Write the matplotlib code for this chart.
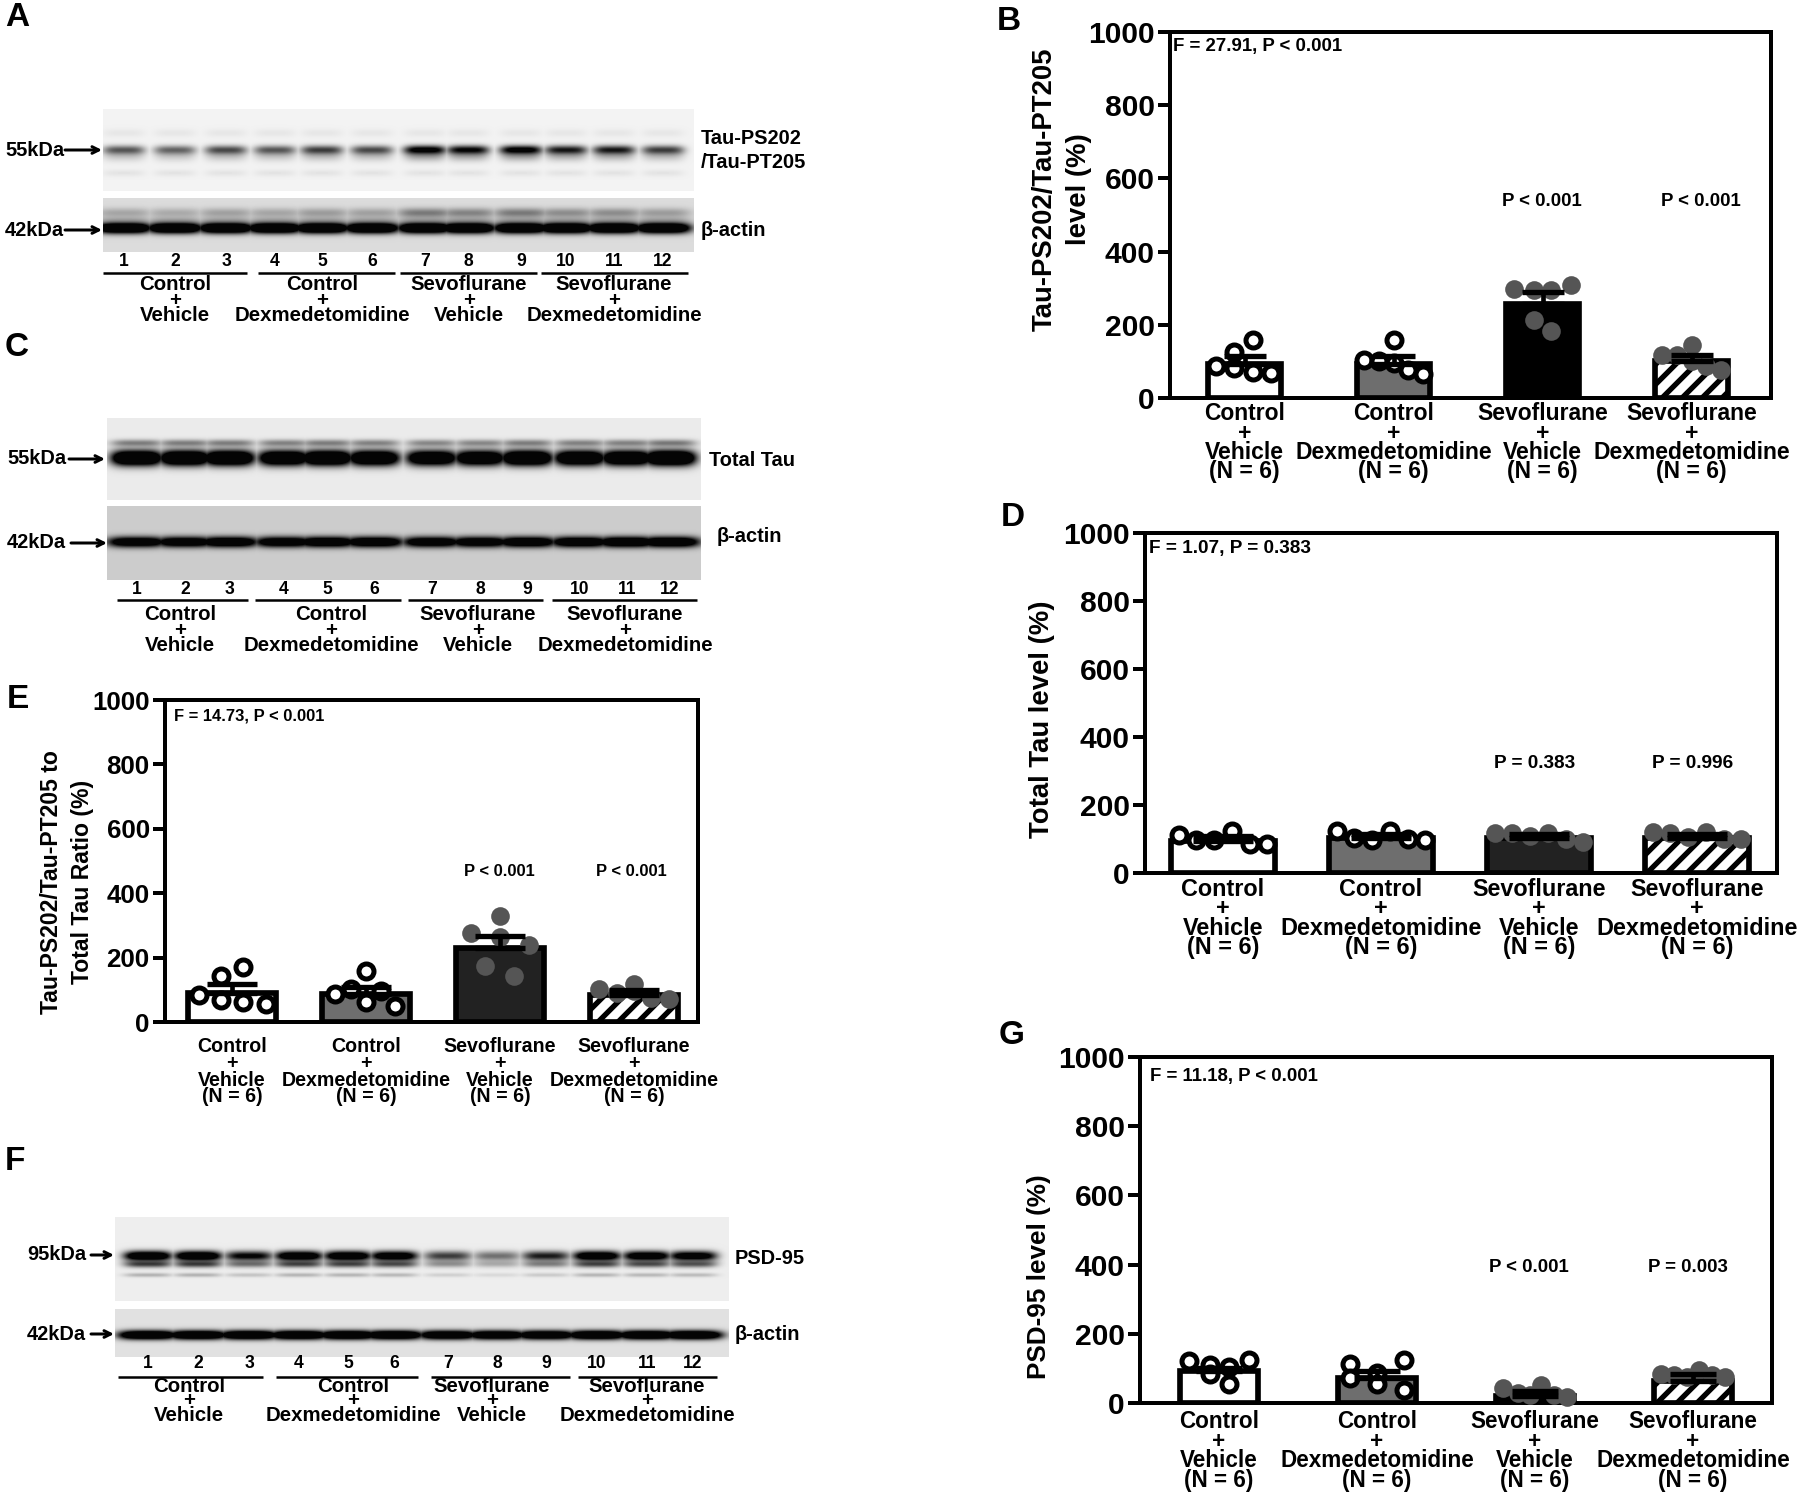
"""Western blot figure: blots A, C, F and bar panels B, D, E, G."""

import numpy as np
import matplotlib

matplotlib.use("Agg")
import matplotlib.pyplot as plt

W, H = 1800, 1493
DPI = 120

plt.rcParams["font.family"] = ["Liberation Sans", "DejaVu Sans"]
plt.rcParams["font.weight"] = "bold"
plt.rcParams["axes.labelweight"] = "bold"
plt.rcParams["hatch.linewidth"] = 3.2

# bar panel data
GROUPS = ["Control\n+\nVehicle\n(N = 6)", "Control\n+\nDexmedetomidine\n(N = 6)",
          "Sevoflurane\n+\nVehicle\n(N = 6)", "Sevoflurane\n+\nDexmedetomidine\n(N = 6)"]
Y_TICKS = [0, 200, 400, 600, 800, 1000]

B_MEANS = [94, 94, 258, 100]
B_TOPS = [114, 114, 289, 118]
B_POINTS = [[87, 127, 82, 158, 70, 68], [105, 100, 96, 159, 76, 66],
            [298, 296, 296, 308, 212, 182], [118, 118, 146, 100, 88, 76]]
B_JITTER = [[-.19, -.07, -.07, .06, .06, .18], [-.2, -.1, 0, 0, .1, .2],
            [-.19, -.06, .06, .19, -.06, .06], [-.2, -.1, 0, 0, .1, .2]]

D_MEANS = [94, 104, 102, 102]
D_TOPS = [108, 115, 114, 115]
D_POINTS = [[111, 98, 96, 125, 86, 86], [123, 104, 96, 125, 101, 98],
            [118, 118, 109, 118, 101, 91], [122, 118, 106, 122, 101, 99]]
D_JITTER = [[-.28, -.17, -.06, .055, .17, .28]] * 4

E_MEANS = [91, 86, 231, 84]
E_TOPS = [117, 109, 266, 98]
E_POINTS = [[83, 142, 67, 171, 61, 57], [88, 102, 61, 157, 95, 49],
            [276, 329, 264, 240, 173, 144], [102, 90, 118, 95, 75, 70]]
E_JITTER = [[-.25, -.085, -.085, .08, .08, .25], [-.23, -.11, 0, 0, .11, .22],
            [-.22, 0, 0, .22, -.115, .105], [-.26, -.13, 0, 0, .13, .26]]

G_MEANS = [92, 72, 19, 65]
G_TOPS = [102, 93, 35, 85]
G_POINTS = [[122, 110, 85, 105, 56, 124], [113, 71, 87, 54, 124, 37],
            [44, 29, 22, 51, 22, 17], [83, 81, 76, 95, 81, 74]]
G_JITTER = [[-.19, -.06, -.06, .065, .065, .19], [-.17, -.17, 0, 0, .17, .17],
            [-.2, -.11, -.03, .04, .12, .2], [-.2, -.12, -.04, .04, .12, .2]]

# band strength per lane, read by eye from the blots
A_TAU = [.55, .5, .6, .55, .65, .6, 1.0, .9, 1.0, .8, .8, .65]
A_ACTIN = [1, 1, 1, 1, 1, 1, 1, 1, 1, 1, 1, 1]
C_TAU = [1, 1, 1, .95, 1, .95, .9, .9, 1, .95, .95, 1.05]
C_ACTIN = [.9, .9, .95, .9, .95, .95, .9, .9, .95, .95, 1, 1]
F_PSD = [1, 1, .7, .95, .95, .9, .5, .35, .6, .95, .9, .85]
F_ACTIN = [1, 1, 1, 1, 1, 1, .95, .95, .95, 1, 1, 1]

A_LANES = [124, 175, 226, 275, 322, 372, 425, 468, 521, 566, 614, 663]
C_LANES = [137, 185, 229, 284, 327, 374, 432, 480, 527, 580, 627, 670]
F_LANES = [148, 198, 249, 299, 348, 394, 448, 497, 546, 597, 647, 693]

SHORT_GROUPS = ["Control\n+\nVehicle", "Control\n+\nDexmedetomidine",
                "Sevoflurane\n+\nVehicle", "Sevoflurane\n+\nDexmedetomidine"]


def bar_panel(fig, box, centers, width, means, tops, points, jitter, ylabel, label_pos,
              stat, stat_pos, pvals, pval_y, sizes, dark="#000000"):
    """One bar panel; box is left, top, right, bottom in figure pixels."""
    left, top, right, bottom = box
    ax = fig.add_axes([left / W, 1 - bottom / H, (right - left) / W, (bottom - top) / H])
    step = centers[1] - centers[0]
    ax.set_xlim((left - centers[0]) / step, (right - centers[0]) / step)
    ax.set_ylim(0, 1000)
    x = np.arange(4)
    fills = ["white", "#6e6e6e", dark, "white"]
    for i in x:
        ax.bar(i, means[i], width, facecolor=fills[i], edgecolor="black", linewidth=3.4,
               hatch="//" if i == 3 else None, zorder=2)
        filled = i >= 2
        ax.plot(i + np.array(jitter[i]), points[i], "o", ls="none", clip_on=False, zorder=3,
                ms=11.2 if filled else 9, mew=0 if filled else 3,
                mfc="#555555" if filled else "white", mec="black")
        ax.errorbar(i, means[i], yerr=[[0], [tops[i] - means[i]]], color="black", elinewidth=2.8,
                    capsize=width * step * 0.29 * 72 / DPI, capthick=3.2, zorder=4)
    ax.set_yticks(Y_TICKS)
    ax.set_xticks(x, GROUPS, fontsize=sizes["cat"], linespacing=sizes["spacing"])
    ax.tick_params(axis="y", length=7.2, width=2.4, labelsize=sizes["tick"], pad=2)
    ax.tick_params(axis="x", length=0, pad=sizes["pad"])
    for s in ax.spines.values():
        s.set_linewidth(2.4)
    ax.set_ylabel(ylabel, fontsize=sizes["ylabel"], va="center", ha="center", linespacing=1.42)
    ax.yaxis.set_label_coords((label_pos[0] - left) / (right - left),
                              (bottom - label_pos[1]) / (bottom - top))
    ax.text((stat_pos[0] - left) / (right - left), (bottom - stat_pos[1]) / (bottom - top), stat,
            transform=ax.transAxes, fontsize=sizes["note"], va="center", ha="left")
    for px, txt in pvals:
        ax.text((px - left) / (right - left), (bottom - pval_y) / (bottom - top), txt,
                transform=ax.transAxes, fontsize=sizes["note"], va="center", ha="center")
    return ax


def blot(ov, extent, lanes, bg, bands, hw=21):
    """Draw a blot on the overlay axes. bands: (y, sigma, strength, lane values)."""
    x0, y0, x1, y1 = extent
    xs = np.arange(x0, x1) + 0.5
    ys = np.arange(y0, y1) + 0.5
    img = np.full((len(ys), len(xs)), float(bg))
    for yc, sig, amp, vals in bands:
        row = np.exp(-((ys - yc) / sig) ** 2 / 2)
        col = np.zeros_like(xs)
        for c, v in zip(lanes, vals):
            col = np.maximum(col, v * np.exp(-(np.abs(xs - c) / hw) ** 4))
        img *= np.clip(1 - amp * np.outer(row, col), 0.02, 1)
    ov.imshow(img, cmap="gray", vmin=0, vmax=1, extent=(x0, x1, y1, y0), aspect="auto",
              interpolation="bilinear", zorder=1)


def blot_labels(ov, lanes, num_y, spans, line_y, centers, text_y, size=12.2, spacing=0.76):
    for c, n in zip(lanes, range(1, 13)):
        ov.text(c, num_y, str(n), fontsize=10.5, ha="center", va="center")
    for (a, b), c, t in zip(spans, centers, SHORT_GROUPS):
        ov.plot([a, b], [line_y, line_y], color="black", lw=1.5, solid_capstyle="butt")
        ov.text(c, text_y, t, fontsize=size, ha="center", va="center", linespacing=spacing)


def kda(ov, txt, x, y, a0, a1):
    ov.text(x, y, txt, fontsize=12, ha="left", va="center")
    ov.annotate("", xy=(a1, y), xytext=(a0, y),
                arrowprops=dict(arrowstyle="->", lw=1.8, color="black", shrinkA=0, shrinkB=0))


fig = plt.figure(figsize=(W / DPI, H / DPI), dpi=DPI)

bar_panel(fig, (1170, 32, 1771, 398), [1244.5, 1393.5, 1543, 1692.5], 0.49,
          B_MEANS, B_TOPS, B_POINTS, B_JITTER, "Tau-PS202/Tau-PT205\nlevel (%)", (1062, 189),
          "F = 27.91, P < 0.001", (1173, 46), [(1542, "P < 0.001"), (1701, "P < 0.001")], 202,
          dict(cat=13.7, spacing=0.8, tick=18, pad=2.5, ylabel=16.5, note=11.2))
bar_panel(fig, (1145, 533, 1777, 873), [1223, 1381, 1539, 1697.5], 0.66,
          D_MEANS, D_TOPS, D_POINTS, D_JITTER, "Total Tau level (%)", (1042, 719),
          "F = 1.07, P = 0.383", (1149, 548), [(1535, "P = 0.383"), (1693, "P = 0.996")], 764,
          dict(cat=14, spacing=0.8, tick=18, pad=3, ylabel=16.5, note=11.4), dark="#222222")
bar_panel(fig, (165, 700, 698, 1022), [232, 366, 499, 632], 0.655,
          E_MEANS, E_TOPS, E_POINTS, E_JITTER, "Tau-PS202/Tau-PT205 to\nTotal Tau Ratio (%)", (67, 882),
          "F = 14.73, P < 0.001", (174, 716), [(499, "P < 0.001"), (631, "P < 0.001")], 871,
          dict(cat=11.8, spacing=0.85, tick=15.5, pad=9, ylabel=13.8, note=9.9), dark="#222222")
bar_panel(fig, (1140, 1057, 1772, 1403), [1219, 1377, 1534, 1692], 0.495,
          G_MEANS, G_TOPS, G_POINTS, G_JITTER, "PSD-95 level (%)", (1039, 1277),
          "F = 11.18, P < 0.001", (1150, 1077), [(1529, "P < 0.001"), (1688, "P = 0.003")], 1267,
          dict(cat=13.5, spacing=0.8, tick=18, pad=4.5, ylabel=15.7, note=11.2))

# overlay in figure pixels for the blots and their labels
ov = fig.add_axes([0, 0, 1, 1], facecolor="none")

blot(ov, (103, 109, 694, 191), A_LANES, 0.95,
     [(150, 3.2, 1.15, A_TAU), (156, 4, 0.3, A_TAU), (133, 3, 0.05, A_ACTIN), (173, 2.5, 0.06, A_ACTIN)])
blot(ov, (103, 198, 694, 252), A_LANES, 0.86,
     [(228, 3.8, 1.8, A_ACTIN), (213, 3.5, 0.45, A_TAU), (220, 2.5, 0.15, A_ACTIN)], hw=28)
blot(ov, (107, 418, 701, 500), C_LANES, 0.92,
     [(458, 5.5, 1.8, C_TAU), (443, 2.5, 0.45, C_TAU)], hw=26)
blot(ov, (107, 506, 701, 580), C_LANES, 0.8, [(542, 3.8, 1.6, C_ACTIN)], hw=30)
blot(ov, (115, 1217, 729, 1301), F_LANES, 0.93,
     [(1256, 3.5, 1.5, F_PSD), (1264, 2.5, 0.75, F_PSD), (1275, 1.5, 0.25, F_PSD)], hw=24)
blot(ov, (115, 1309, 729, 1357), F_LANES, 0.88, [(1335, 3.2, 1.7, F_ACTIN)], hw=30)

blot_labels(ov, A_LANES, 262, [(103, 247), (258, 395), (400, 537), (541, 688)], 273,
            [175, 322, 469, 614], 300)
blot_labels(ov, C_LANES, 590, [(117, 248), (255, 401), (408, 543), (552, 697)], 600,
            [180, 331, 478, 625], 630)
blot_labels(ov, F_LANES, 1364, [(118, 263), (276, 418), (431, 570), (578, 717)], 1377,
            [189, 353, 492, 647], 1401, spacing=0.68)

kda(ov, "55kDa", 5, 150, 65, 102)
kda(ov, "42kDa", 5, 230, 65, 102)
kda(ov, "55kDa", 7, 459, 69, 105)
kda(ov, "42kDa", 7, 543, 71, 107)
kda(ov, "95kDa", 27, 1255, 91, 114)
kda(ov, "42kDa", 27, 1334, 91, 114)

for x, y, t in [(701, 139, "Tau-PS202"), (701, 163, "/Tau-PT205"), (701, 230, "β-actin"),
                (709, 460, "Total Tau"), (717, 536, "β-actin"),
                (735, 1259, "PSD-95"), (735, 1334, "β-actin")]:
    ov.text(x, y, t, fontsize=12, ha="left", va="center")

for x, y, t in [(5, 18, "A"), (997, 21, "B"), (5, 347, "C"), (1001, 517, "D"),
                (7, 700, "E"), (5, 1162, "F"), (999, 1036, "G")]:
    ov.text(x, y, t, fontsize=20, ha="left", va="center")

ov.set_xlim(0, W)
ov.set_ylim(H, 0)
ov.axis("off")

fig.savefig("out.png", dpi=DPI)
